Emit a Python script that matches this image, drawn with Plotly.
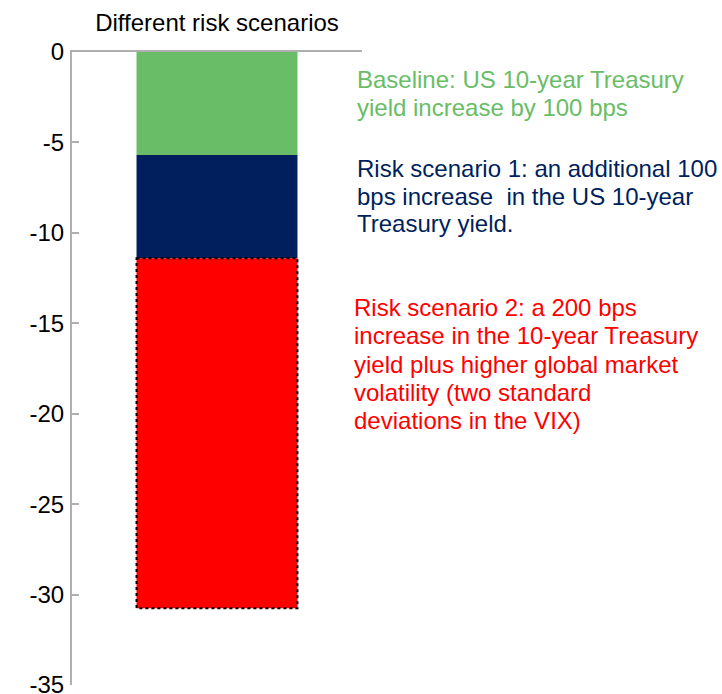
import plotly.graph_objects as go

categories = ["Different risk scenarios"]
baseline = [-5.7]
scenario1 = [-5.7]
scenario2 = [-19.35]
ytick_vals = [0, -5, -10, -15, -20, -25, -30, -35]
ytick_text = ["0", "-5", "-10", "-15", "-20", "-25", "-30", "-35"]

baseline_lines = ["Baseline: US 10-year Treasury", "yield increase by 100 bps"]
scen1_lines = ["Risk scenario 1: an additional 100", "bps increase  in the US 10-year", "Treasury yield."]
scen2_lines = ["Risk scenario 2: a 200 bps", "increase in the 10-year Treasury",
               "yield plus higher global market", "volatility (two standard",
               "deviations in the VIX)"]

GREEN = "#69BD67"
NAVY = "#001F5C"
RED = "#FF0000"
FONT = "Liberation Sans, Arial, sans-serif"
BW = 0.555

fig = go.Figure()
fig.add_bar(x=[0], y=baseline, width=BW, marker=dict(color=GREEN, line=dict(width=0)), name="Baseline")
fig.add_bar(x=[0], y=scenario1, width=BW, marker=dict(color=NAVY, line=dict(width=0)), name="Risk scenario 1")
fig.add_bar(x=[0], y=scenario2, width=BW, marker=dict(color=RED, line=dict(width=0)), name="Risk scenario 2")

top_red = baseline[0] + scenario1[0]
bot_red = top_red + scenario2[0]
fig.add_shape(type="rect", xref="x", yref="y", x0=-BW / 2, x1=BW / 2, y0=top_red, y1=bot_red,
              line=dict(color="black", width=2, dash="dot"), fillcolor="rgba(0,0,0,0)", layer="above")

OFF = 0  # body margin removed by post_script
W, H = 722, 694
PX0, PX1, PY0, PY1 = 72, 362, 52, 685  # plot area in page pixels
L, T = PX0 - OFF, PY0 - OFF
pw, ph = PX1 - PX0, PY1 - PY0
R, B = W - L - pw, H - T - ph


def px_to_paper(xp, yp):
    return (xp - PX0) / pw, 1 - (yp - PY0) / ph


def add_lines(lines, xleft, ycenters, color):
    for txt, yc in zip(lines, ycenters):
        xx, yy = px_to_paper(xleft, yc)
        fig.add_annotation(text=txt, xref="paper", yref="paper", x=xx, y=yy,
                           xanchor="left", yanchor="middle", showarrow=False,
                           font=dict(family=FONT, size=24, color=color))


add_lines(baseline_lines, 355, [79, 107], GREEN)
add_lines(scen1_lines, 355, [168, 196, 223], NAVY)
add_lines(scen2_lines, 352, [307, 335.5, 364, 392, 420.5], RED)

fig.update_layout(
    width=W, height=H, barmode="relative", showlegend=False,
    plot_bgcolor="white", paper_bgcolor="white",
    margin=dict(l=L, r=R, t=T, b=B, autoexpand=False),
    font=dict(family=FONT, size=24, color="black"),
    xaxis=dict(range=[-0.5, 0.5], side="top", tickvals=[0], ticktext=categories,
               showline=True, linecolor="#AFAFAF", linewidth=2, ticks="outside", ticklen=9,
               tickcolor="rgba(0,0,0,0)", showgrid=False, automargin=False,
               zeroline=False, tickfont=dict(size=24)),
    yaxis=dict(range=[-35, 0], tickvals=ytick_vals, ticktext=ytick_text,
               showline=True, linecolor="#AFAFAF", linewidth=2, ticks="inside",
               ticklen=7, tickwidth=2, tickcolor="#AFAFAF", showgrid=False, zeroline=False,
               automargin=False, tickfont=dict(size=24), ticklabelstandoff=1,
               ticklabeloverflow="allow"),
)

fig.write_html("out.html", config={"displayModeBar": False},
               post_script="document.body.style.margin='0';document.body.style.overflow='hidden';")
